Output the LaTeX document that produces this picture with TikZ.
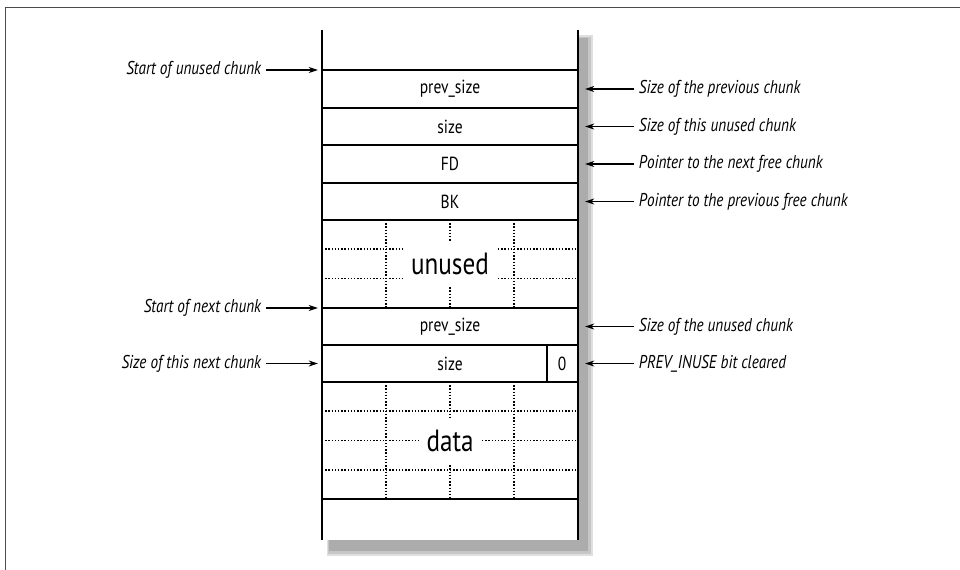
\documentclass[tikz,border=0pt]{standalone}
\usepackage{fontspec}
\setmainfont{PT Sans}[FakeStretch=0.82]
\usetikzlibrary{arrows.meta,positioning}
\tikzset{>=Stealth}

\begin{document}
\begin{tikzpicture}[x=0.75pt,y=-0.75pt,
    field/.style={font=\fontsize{14.2}{16}\selectfont, inner sep=0pt},
    big/.style={font=\fontsize{23}{26}\selectfont, fill=white, inner xsep=5.5pt, inner ysep=0pt, minimum height=34pt},
    note/.style={font=\fontsize{13.9}{16}\selectfont\itshape, inner sep=3.5pt},
    wall/.style={line width=1.6pt},
    grid/.style={line width=1.2pt, dash pattern=on 1.1pt off 1.3pt},
    ptr/.style={->, line width=0.8pt, >={Stealth[length=7pt,width=4.5pt]}}
  ]
    \useasboundingbox (0,0) rectangle (960,570);
    % frame
    \draw[gray!60!black, line width=1.2pt] (960,7.5) -- (5.5,7.5) -- (5.5,570);
    % shadow
    \fill[gray!25] (327,35) rectangle (593,556);
    \fill[gray!45] (328,37) rectangle (591,554);
    \fill[gray!65] (329,38) rectangle (588,551);
    \fill[white]   (322,30) rectangle (578,540);
    % dotted grids
    \foreach \x in {386,450,514} \draw[grid] (\x,220) -- (\x,308);
    \foreach \y in {249.3,278.7} \draw[grid] (322,\y) -- (578,\y);
    \foreach \x in {386,450,514} \draw[grid] (\x,382) -- (\x,499);
    \foreach \y in {411.25,440.5,469.75} \draw[grid] (322,\y) -- (578,\y);
    \node[big] (unused) at (450,264) {unused};
    \node[big] (data) at (450,441) {data};
    % walls and rows
    \draw[wall] (322,30) -- (322,540);
    \draw[wall] (578,30) -- (578,540);
    \foreach \y in {70,108,145,183,220,308,345,382,499} \draw[wall] (322,\y) -- (578,\y);
    \draw[wall] (547,345) -- (547,382);
    % fields
    \node[field] (prev1) at (450,89)    {prev\_size};
    \node[field] (size1) at (450,126.5) {size};
    \node[field] (fd)    at (450,164)   {FD};
    \node[field] (bk)    at (450,201.5) {BK};
    \node[field] (prev2) at (450,326.5) {prev\_size};
    \node[field] (size2) at (450,363.5) {size};
    \node[field] (bit)   at (562,363.5) {0};
    % edge points
    \coordinate (inUnused) at (318,70);
    \coordinate (inNext)   at (318,308);
    \coordinate (inSize)   at (318,363.5);
    \foreach \n/\y in {rPrev1/89,rSize1/126.5,rFd/164,rBk/201.5,rPrev2/326.5,rBit/363.5}
      \coordinate (\n) at (585,\y);
    % notes on the left
    \node[note, anchor=east] (nUnused) at (266,70)    {Start of unused chunk};
    \node[note, anchor=east] (nNext)   at (266,308)   {Start of next chunk};
    \node[note, anchor=east] (nSize)   at (266,363.5) {Size of this next chunk};
    \draw[ptr] (nUnused) -- (inUnused);
    \draw[ptr] (nNext) -- (inNext);
    \draw[ptr] (nSize) -- (inSize);
    % notes on the right
    \node[note, anchor=west] (nPrev1) at (634,89)    {Size of the previous chunk};
    \node[note, anchor=west] (nSize1) at (634,126.5) {Size of this unused chunk};
    \node[note, anchor=west] (nFd)    at (634,164)   {Pointer to the next free chunk};
    \node[note, anchor=west] (nBk)    at (634,201.5) {Pointer to the previous free chunk};
    \node[note, anchor=west] (nPrev2) at (634,326.5) {Size of the unused chunk};
    \node[note, anchor=west] (nBit)   at (634,363.5) {PREV\_INUSE bit cleared};
    \foreach \n in {Prev1,Size1,Fd,Bk,Prev2,Bit}
      \draw[ptr] (n\n) -- (r\n);
  \end{tikzpicture}
\end{document}
